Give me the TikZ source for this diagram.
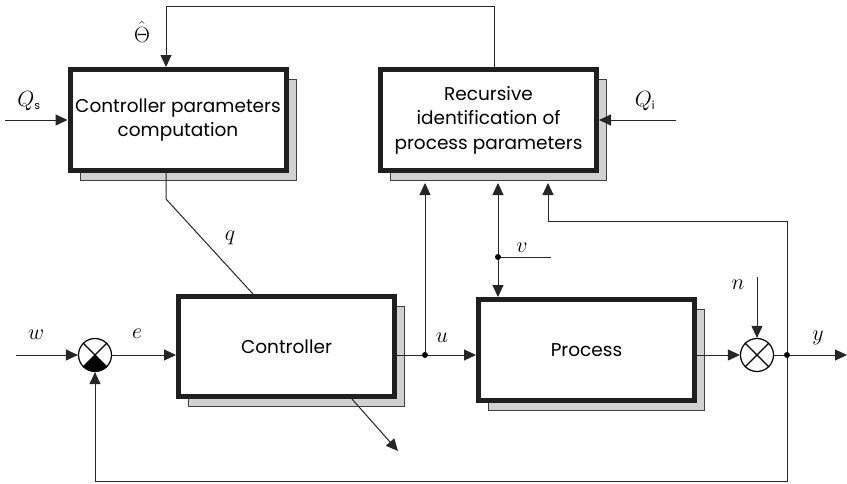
\RequirePackage{fix-cm}
\documentclass[tikz,border=0pt]{standalone}
\usepackage{fontspec}
\setmainfont{Poppins}
\usetikzlibrary{arrows.meta,shadows,calc}

\begin{document}
\begin{tikzpicture}[x=1pt,y=-1pt,
  >={Triangle[length=12pt,width=11pt]},
  wire/.style={line width=1pt, draw=black!85},
  blk/.style={draw=black!88, line width=5pt, fill=white, inner sep=0pt,
    minimum width=216pt, minimum height=101pt, align=center,
    font=\fontsize{18.5}{24.5}\selectfont,
    drop shadow={shadow xshift=10pt, shadow yshift=-10pt, fill=black!18,
      draw=black!75, line width=1pt, opacity=1}},
  sumj/.style={circle, draw, line width=1.2pt, minimum size=33pt, inner sep=0pt},
  dot/.style={circle, fill, inner sep=0pt, minimum size=6pt},
  lbl/.style={font=\fontsize{22}{22}\selectfont, inner sep=0pt}
]
\useasboundingbox (0,0) rectangle (847,483);

% blocks
\node[blk] (cpc) at (178,120) {Controller parameters\\computation};
\node[blk] (rid) at (488.5,120) {Recursive\\identification of\\process parameters};
\node[blk, minimum height=100pt] (ctrl) at (286.5,346.5) {Controller};
\node[blk] (proc) at (586.5,350) {Process};

% summing junctions
\node[sumj] (s1) at (95,355) {};
\node[sumj] (s2) at (757,355) {};
\foreach \s in {s1,s2}
  \draw[line width=1.2pt] (\s.north west) -- (\s.south east) (\s.north east) -- (\s.south west);
\begin{scope}
  \clip (s1.center) -- ++(-25,25) -- ++(50,0) -- cycle;
  \fill (s1.center) circle[radius=16.5pt];
\end{scope}

% branch points
\node[dot] (uj) at (425,355) {};
\node[dot] (vj) at (498,257) {};
\node[dot] (yj) at (787,355) {};

% free ends and corners
\coordinate (win) at (16,355);
\coordinate (yout) at (847,355);
\coordinate (qs) at (5,120);
\coordinate (qi) at (676,120);
\coordinate (nin) at (757,277);
\coordinate (vin) at (551,257);
\coordinate (thr) at (494,6);
\coordinate (thl) at (166,6);
\coordinate (qk) at (166,199);
\coordinate (qe) at (253,0);
\coordinate (da) at (352,0);
\coordinate (db) at (398,451);
\coordinate (fbk) at (548,221);
\coordinate (fbb) at (787,481);
\coordinate (ridsh) at ($(rid.south)+(0,10)$);

% connectors
\draw[wire,->] (rid.north -| thr) -- (thr) -- (thl) -- (cpc.north -| thl);
\draw[wire,->] (qs) -- (cpc.west |- qs);
\draw[wire,->] (qi) -- (rid.east |- qi);
\draw[wire] (cpc.south -| qk) -- (qk) -- (ctrl.north -| qe);
\draw[wire,->] (win) -- (s1.west);
\draw[wire,->] (s1.east) -- (ctrl.west |- s1);
\draw[wire] (ctrl.east |- uj) -- (uj);
\draw[wire,->] (uj) -- (proc.west |- uj);
\draw[wire,->] (ctrl.south -| da) -- (db);
\draw[wire,->] (uj) -- (uj |- ridsh);
\draw[wire,->] (vj) -- (vj |- ridsh);
\draw[wire,->] (vj) -- (vj |- proc.north);
\draw[wire] (vj) -- (vin);
\draw[wire,->] (proc.east |- s2) -- (s2.west);
\draw[wire,->] (nin) -- (s2.north);
\draw[wire] (s2.east) -- (yj);
\draw[wire,->] (yj) -- (yout);
\draw[wire,->] (yj) |- (fbk) -- (fbk |- ridsh);
\draw[wire,->] (yj) -- (fbb) -| (s1.south);

% signal labels
\node[lbl] (lth) at (142,32) {$\hat{\Theta}$};
\node[lbl] (lqs) at (29,101) {$Q_{\mbox{\fontsize{11}{11}\selectfont s}}$};
\node[lbl] (lqi) at (645,101) {$Q_{\mbox{\fontsize{11}{11}\selectfont i}}$};
\node[lbl] (lq) at (230,238) {$q$};
\node[lbl] (lw) at (36,335) {$w$};
\node[lbl] (le) at (137,334) {$e$};
\node[lbl] (lu) at (442,338) {$u$};
\node[lbl] (lv) at (522,248) {$v$};
\node[lbl] (ln) at (738,285) {$n$};
\node[lbl] (ly) at (818,338) {$y$};
\end{tikzpicture}
\end{document}
